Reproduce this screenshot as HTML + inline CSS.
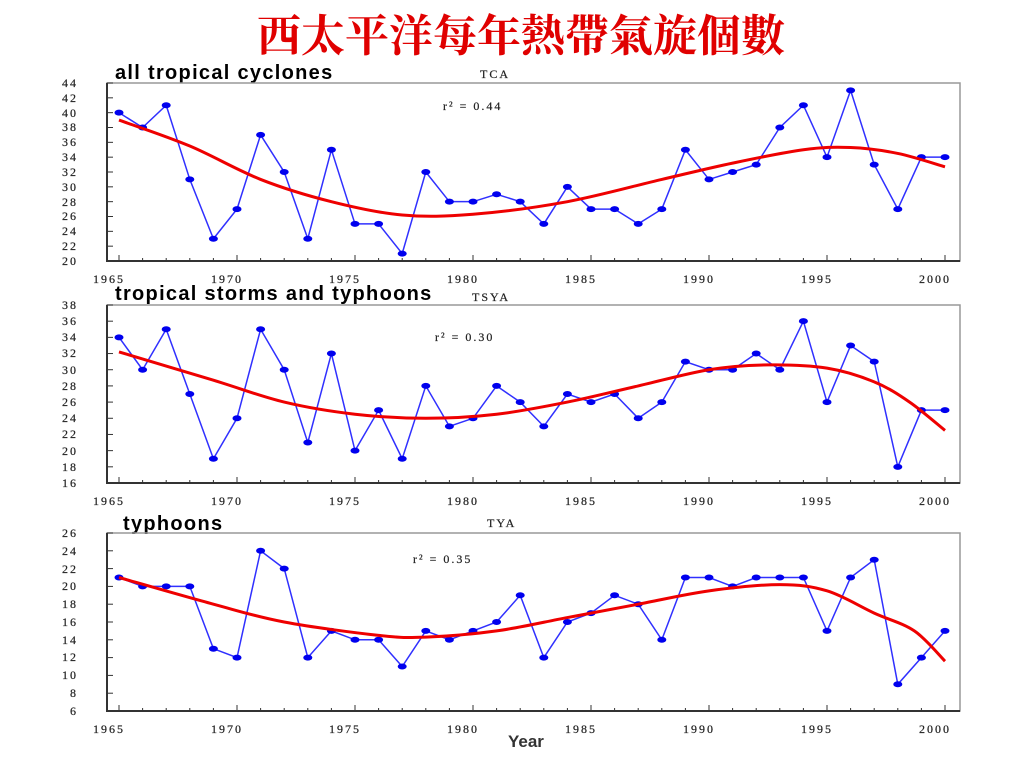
<!DOCTYPE html>
<html><head><meta charset="utf-8"><style>
body{margin:0;background:#fff;width:1024px;height:768px;overflow:hidden}
svg{display:block}
.t{font-family:"Liberation Serif",serif;font-size:12px;fill:#222;letter-spacing:2px;stroke:#222;stroke-width:0.2}
.lab{font-family:"Liberation Sans",sans-serif;font-size:20px;fill:#000;font-weight:bold;letter-spacing:1.3px}
</style></head><body>
<svg id="s" width="1024" height="768" xmlns="http://www.w3.org/2000/svg">
<text x="521" y="51" text-anchor="middle" font-family="'Liberation Serif','Noto Serif CJK SC',serif" font-size="44" font-weight="bold" fill="#e00000">西太平洋每年熱帶氣旋個數</text>
<text class="lab" x="115" y="79">all tropical cyclones</text>
<text class="lab" x="115" y="300">tropical storms and typhoons</text>
<text class="lab" x="123" y="530">typhoons</text>
<text class="t" x="480" y="78">TCA</text>
<text class="t" x="472" y="301">TSYA</text>
<text class="t" x="487" y="527">TYA</text>
<text class="t" x="443" y="110">r² = 0.44</text>
<text class="t" x="435" y="341">r² = 0.30</text>
<text class="t" x="413" y="563">r² = 0.35</text>
<text x="508" y="747" font-family="'Liberation Sans',sans-serif" font-size="17" font-weight="bold" fill="#333">Year</text>
<text class="t" x="93" y="283">1965</text><text class="t" x="211" y="283">1970</text><text class="t" x="329" y="283">1975</text><text class="t" x="447" y="283">1980</text><text class="t" x="565" y="283">1985</text><text class="t" x="683" y="283">1990</text><text class="t" x="801" y="283">1995</text><text class="t" x="919" y="283">2000</text>
<text class="t" x="93" y="505">1965</text><text class="t" x="211" y="505">1970</text><text class="t" x="329" y="505">1975</text><text class="t" x="447" y="505">1980</text><text class="t" x="565" y="505">1985</text><text class="t" x="683" y="505">1990</text><text class="t" x="801" y="505">1995</text><text class="t" x="919" y="505">2000</text>
<text class="t" x="93" y="733">1965</text><text class="t" x="211" y="733">1970</text><text class="t" x="329" y="733">1975</text><text class="t" x="447" y="733">1980</text><text class="t" x="565" y="733">1985</text><text class="t" x="683" y="733">1990</text><text class="t" x="801" y="733">1995</text><text class="t" x="919" y="733">2000</text>
<g class="t">
<text x="62" y="87">44</text><text x="62" y="102">42</text><text x="62" y="117">40</text><text x="62" y="131">38</text><text x="62" y="146">36</text><text x="62" y="161">34</text><text x="62" y="176">32</text><text x="62" y="191">30</text><text x="62" y="206">28</text><text x="62" y="220">26</text><text x="62" y="235">24</text><text x="62" y="250">22</text><text x="62" y="265">20</text>
<text x="62" y="309">38</text><text x="62" y="325">36</text><text x="62" y="341">34</text><text x="62" y="357">32</text><text x="62" y="374">30</text><text x="62" y="390">28</text><text x="62" y="406">26</text><text x="62" y="422">24</text><text x="62" y="438">22</text><text x="62" y="455">20</text><text x="62" y="471">18</text><text x="62" y="487">16</text>
<text x="62" y="537">26</text><text x="62" y="555">24</text><text x="62" y="573">22</text><text x="62" y="590">20</text><text x="62" y="608">18</text><text x="62" y="626">16</text><text x="62" y="644">14</text><text x="62" y="661">12</text><text x="62" y="679">10</text><text x="70" y="697">8</text><text x="70" y="715">6</text>
</g>
<g id="plots"></g>
</svg>
<script>
var P=[
{top:83,bot:261,min:20,max:44,d:[40,38,41,31,23,27,37,32,23,35,25,25,21,32,28,28,29,28,25,30,27,27,25,27,35,31,32,33,38,41,34,43,33,27,34,34],
 r:[[1965,39],[1968,35.5],[1971,31],[1974,28],[1977,26.2],[1980,26.3],[1984,28],[1988,31],[1991,33.2],[1994,35],[1996,35.3],[1998,34.5],[2000,32.7]]},
{top:305,bot:483,min:16,max:38,d:[34,30,35,27,19,24,35,30,21,32,20,25,19,28,23,24,28,26,23,27,26,27,24,26,31,30,30,32,30,36,26,33,31,18,25,25],
 r:[[1965,32.2],[1969,28.7],[1972,26],[1975,24.5],[1978,24],[1981,24.5],[1984,26],[1987,28],[1990,30],[1992.5,30.6],[1995,30.2],[1997,28.5],[1998.5,26],[2000,22.5]]},
{top:533,bot:711,min:6,max:26,d:[21,20,20,20,13,12,24,22,12,15,14,14,11,15,14,15,16,19,12,16,17,19,18,14,21,21,20,21,21,21,15,21,23,9,12,15],
 r:[[1965,21],[1969,18],[1972,16],[1976,14.5],[1978,14.3],[1981,15],[1984,16.5],[1987,18],[1990,19.5],[1993,20.2],[1995,19.5],[1997,17],[1998.7,15],[2000,11.6]]}];
var L=107,R=960,h='';
function X(y){return 119+(y-1965)*23.6}
P.forEach(function(p){
 var k=(p.bot-p.top)/(p.max-p.min);function Y(v){return p.bot-(v-p.min)*k}
 h+='<rect x="'+L+'" y="'+p.top+'" width="'+(R-L)+'" height="'+(p.bot-p.top)+'" fill="none" stroke="#999" stroke-width="1.5"/>';
 h+='<path d="M'+L+' '+p.top+'V'+p.bot+'H'+R+'" fill="none" stroke="#333" stroke-width="2"/>';
 for(var v=p.min;v<=p.max;v+=2)h+='<line x1="'+L+'" x2="'+(L+6)+'" y1="'+Y(v)+'" y2="'+Y(v)+'" stroke="#333"/>';
 for(var y=1965;y<=2000;y++){var x=X(y);h+='<line x1="'+x+'" x2="'+x+'" y1="'+p.bot+'" y2="'+(p.bot-(y%5?3:6))+'" stroke="#333"/>';}
 var pts=p.d.map(function(v,i){return X(1965+i)+','+Y(v)}).join(' ');
 h+='<polyline points="'+pts+'" fill="none" stroke="#3030ff" stroke-width="1.5"/>';
 p.d.forEach(function(v,i){h+='<ellipse cx="'+X(1965+i)+'" cy="'+Y(v)+'" rx="4.5" ry="3" fill="#0000ee"/>';});
 var r=p.r.map(function(a){return[X(a[0]),Y(a[1])]}),d='M'+r[0];
 for(var i=0;i<r.length-1;i++){var p0=r[i-1]||r[i],p1=r[i],p2=r[i+1],p3=r[i+2]||p2;
  d+=' C'+(p1[0]+(p2[0]-p0[0])/6)+','+(p1[1]+(p2[1]-p0[1])/6)+' '+(p2[0]-(p3[0]-p1[0])/6)+','+(p2[1]-(p3[1]-p1[1])/6)+' '+p2;}
 h+='<path d="'+d+'" fill="none" stroke="#ee0000" stroke-width="3"/>';
});
document.getElementById('plots').innerHTML=h;
</script>
</body></html>
